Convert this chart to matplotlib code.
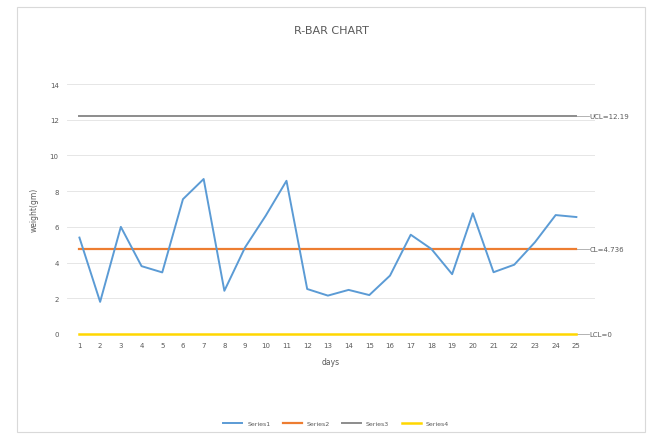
import matplotlib.pyplot as plt
from matplotlib.patches import Rectangle

days = list(range(1, 26))
ranges = [5.4, 1.8, 6.0, 3.8, 3.45, 7.55, 8.68, 2.42, 4.85, 6.63, 8.58, 2.52, 2.15, 2.47, 2.18,
          3.27, 5.56, 4.76, 3.35, 6.76, 3.46, 3.88, 5.14, 6.66, 6.55]
ucl = 12.19
cl = 4.736
lcl = 0
series_names = ['Series1', 'Series2', 'Series3', 'Series4']
colors = ['#5B9BD5', '#ED7D31', '#8C8C8C', '#FFD700']
txt = '#595959'

fig = plt.figure(figsize=(6.59, 4.35), dpi=100)
fig.patches.append(Rectangle((17 / 659, 0.005), 628 / 659, 1 - 8 / 435 - 0.005,
                             transform=fig.transFigure, fill=False, edgecolor='#D9D9D9', linewidth=0.8))

ax = fig.add_axes([67 / 659, 100 / 435, 528 / 659, 250 / 435])
ax.plot(days, ranges, color=colors[0], linewidth=1.4, label=series_names[0], zorder=4)
ax.plot(days, [cl] * len(days), color=colors[1], linewidth=1.6, label=series_names[1], zorder=3)
ax.plot(days, [ucl] * len(days), color=colors[2], linewidth=1.4, label=series_names[2], zorder=3)
ax.plot(days, [lcl] * len(days), color=colors[3], linewidth=1.8, label=series_names[3], zorder=3,
        clip_on=False)

# data labels with short leader lines
for val, lab in [(ucl, 'UCL=12.19'), (cl, 'CL=4.736'), (lcl, 'LCL=0')]:
    ax.plot([25, 25.6], [val, val], color='#A6A6A6', linewidth=0.6, clip_on=False)
    ax.text(25.65, val, lab, fontsize=5, color=txt, va='center', ha='left', clip_on=False)

ax.set_xlim(0.4, 25.9)
ax.set_ylim(0, 14)
ax.set_xticks(days)
ax.set_yticks(range(0, 15, 2))
ax.tick_params(length=0, labelsize=5, labelcolor=txt, pad=6)
ax.grid(axis='y', color='#E6E6E6', linewidth=0.7)
ax.set_axisbelow(True)
for s in ax.spines.values():
    s.set_visible(False)

ax.set_title('R-BAR CHART', fontsize=8, color=txt, pad=37)
ax.set_xlabel('days', fontsize=5.5, color=txt, labelpad=6)
ax.set_ylabel('weight(gm)', fontsize=5.5, color=txt, labelpad=8)

fig.legend(loc='lower center', bbox_to_anchor=(0.51, 0.005), ncol=4, frameon=False,
           fontsize=4.5, handlelength=3, labelcolor=txt, columnspacing=2)

fig.savefig('out.png', dpi=100, facecolor='white')
